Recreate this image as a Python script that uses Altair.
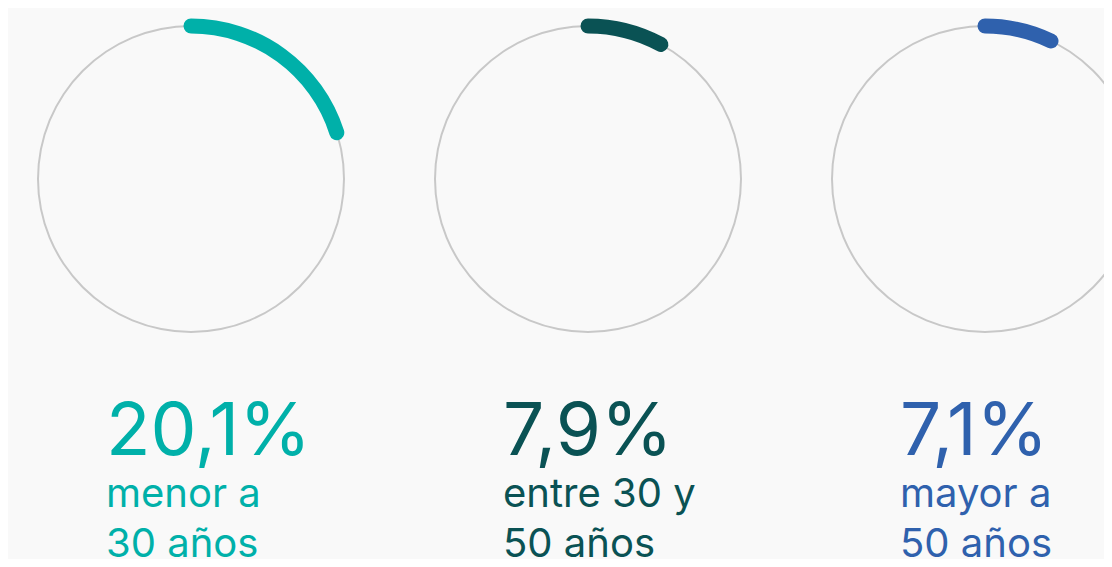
import math
import altair as alt
import pandas as pd

# ---- data ----
grupos = ["menor a 30 años", "entre 30 y 50 años", "mayor a 50 años"]
valores = [20.1, 7.9, 7.1]
etiquetas = ["menor a\n30 años", "entre 30 y\n50 años", "mayor a\n50 años"]
colores = ["#00b0a9", "#0a5254", "#2f61ad"]

df = pd.DataFrame({
    "grupo": grupos,
    "valor": valores,
    "pct": [f"{v:.1f}".replace(".", ",") + "%" for v in valores],
    "etiqueta": etiquetas,
})

CY = 171
R = 153
W = 15
# round-cap extension of the stroke, expressed in percent of the full turn
CAP = (W / 2) / R / (2 * math.pi) * 100

x_enc = alt.X("grupo:N", scale=alt.Scale(type="point", domain=grupos, range=[183, 977], padding=0), axis=None)
color_enc = alt.Color("grupo:N", scale=alt.Scale(domain=grupos, range=colores), legend=None)
theta_scale = alt.Scale(domain=[0, 100], range=[0, 2 * math.pi])

base = alt.Chart(df).transform_calculate(
    inicio="0",
    total="100",
    a0=f"-{CAP}",
    a1=f"datum.valor + {CAP}",
)

ring = base.mark_arc(radius=R + 1, radius2=R - 1, color="#c8c8c8", clip=True).encode(
    x=x_enc,
    y=alt.value(CY),
    theta=alt.Theta("inicio:Q", scale=theta_scale, stack=None),
    theta2="total:Q",
)

arc = base.mark_arc(radius=R + W / 2, radius2=R - W / 2, cornerRadius=W / 2, clip=True).encode(
    x=x_enc,
    y=alt.value(CY),
    theta=alt.Theta("a0:Q", scale=theta_scale, stack=None),
    theta2="a1:Q",
    color=color_enc,
)

pct = base.mark_text(align="left", baseline="alphabetic", dx=-85, font="Inter",
                     fontSize=73, fontWeight=400, clip=True).encode(
    x=x_enc,
    y=alt.value(447),
    text="pct:N",
    color=color_enc,
)

lab = base.mark_text(align="left", baseline="alphabetic", dx=-85, font="Inter",
                     fontSize=40, fontWeight=400, lineBreak="\n", lineHeight=50, clip=True).encode(
    x=x_enc,
    y=alt.value(499),
    text="etiqueta:N",
    color=color_enc,
)

chart = alt.layer(ring, arc, pct, lab).properties(
    width=1096, height=551,
    autosize=alt.AutoSizeParams(type="none"),
    padding=0,
    background="#f9f9f9",
).configure_view(stroke=None)

chart.save("out.html", embed_options={"renderer": "svg", "actions": False})
